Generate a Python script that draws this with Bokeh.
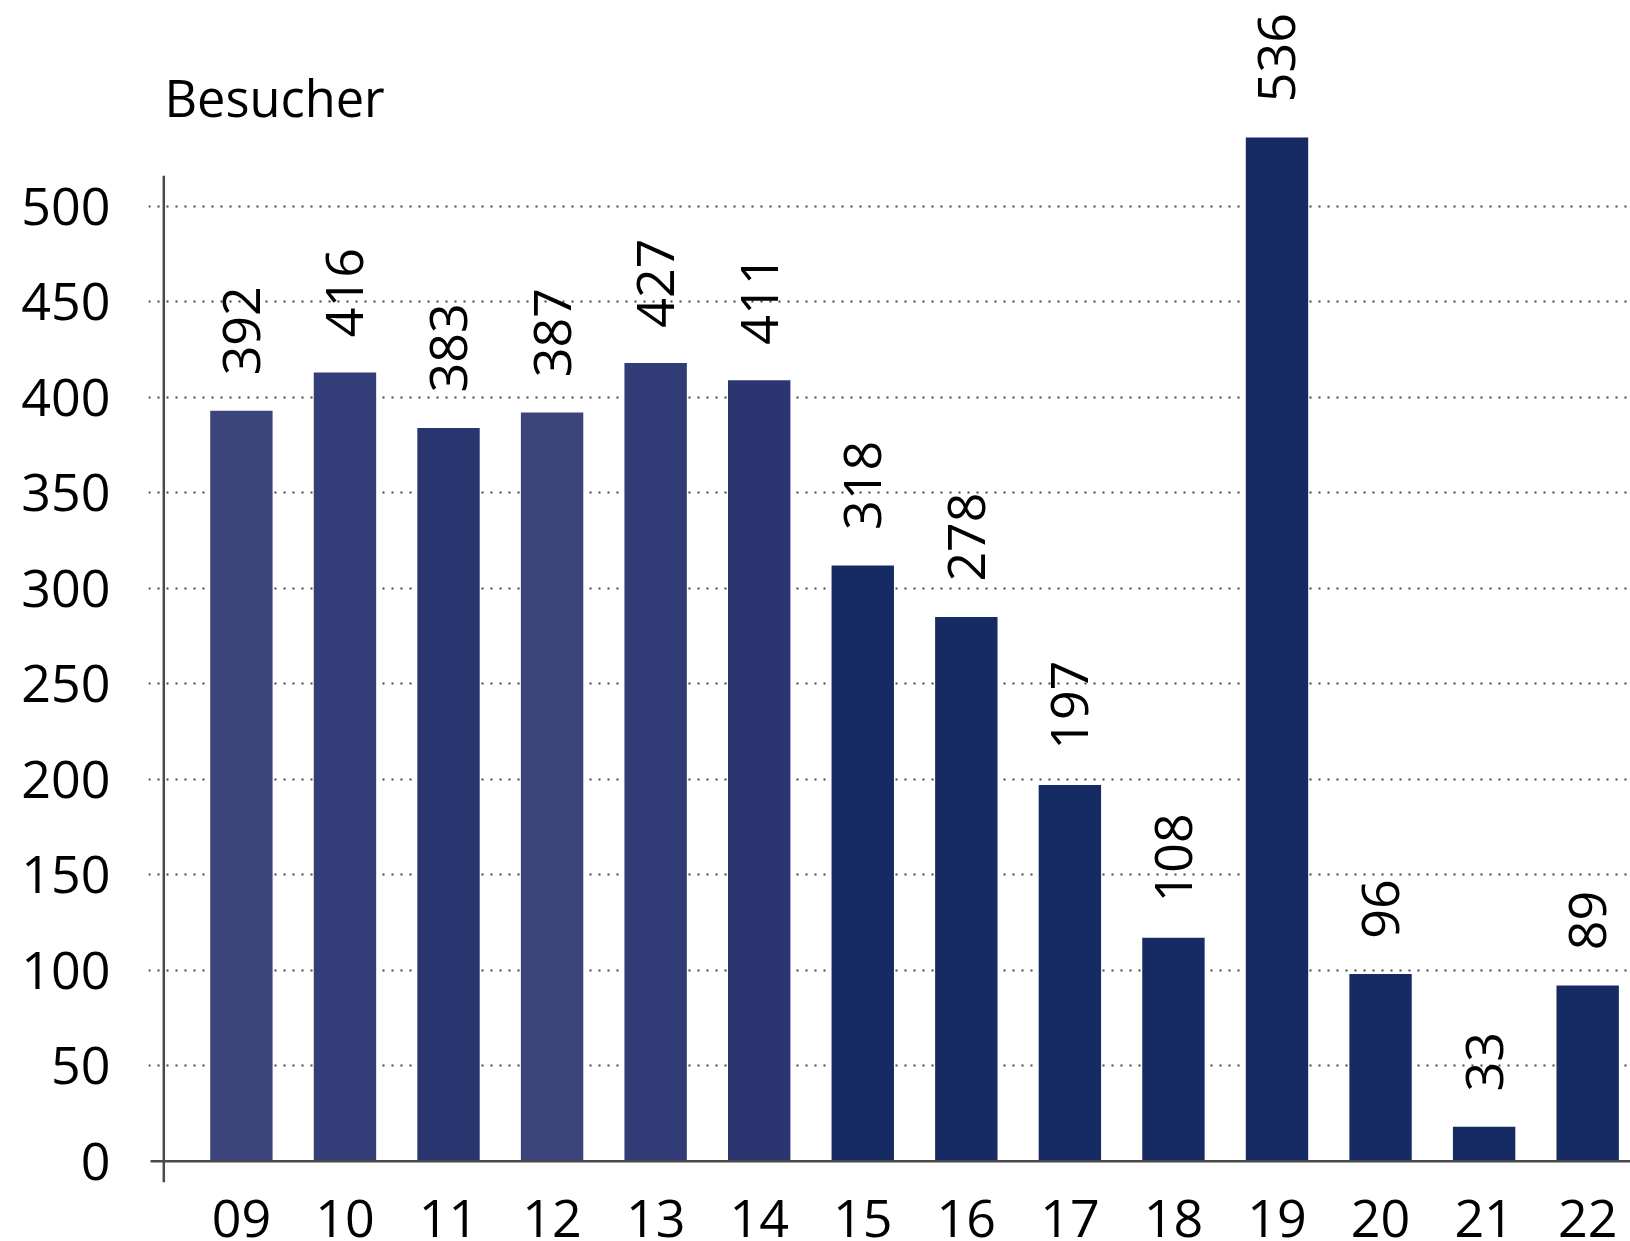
import math
from bokeh.plotting import figure
from bokeh.models import Range1d, FixedTicker
from bokeh.core.properties import value
from bokeh.embed import file_html
from bokeh.resources import INLINE

# ---- data ----
years = ["09", "10", "11", "12", "13", "14", "15", "16", "17", "18", "19", "20", "21", "22"]
bar_values = [393, 413, 384, 392, 418, 409, 312, 285, 197, 117, 536, 98, 18, 92]
label_values = [392, 416, 383, 387, 427, 411, 318, 278, 197, 108, 536, 96, 33, 89]
bar_colors = ["#3c457b", "#333d78", "#29356f", "#3c457b", "#323c77", "#2b3570",
              "#162a64", "#162a64", "#162a64", "#162a64", "#162a64", "#162a64",
              "#162a64", "#162a64"]
y_ticks = [0, 50, 100, 150, 200, 250, 300, 350, 400, 450, 500]
y_title = "Besucher"

FONT = "Open Sans"
FS = "52px"
idx = list(range(len(years)))

X_START, X_END = -0.8971, 13.4135
Y_START, Y_END = -42.05, 607.8
Y_AXIS_X = -0.7493
X_AXIS_START = -0.8777

p = figure(width=1630, height=1241,
           x_range=Range1d(X_START, X_END), y_range=Range1d(Y_START, Y_END),
           output_backend="svg", toolbar_location=None,
           x_axis_location=None,
           min_border_left=148, min_border_right=0,
           min_border_top=0, min_border_bottom=0)
p.outline_line_color = None
p.background_fill_color = "white"
p.border_fill_color = "white"

yax = p.yaxis[0]
yax.ticker = FixedTicker(ticks=y_ticks)
yax.axis_line_color = None
yax.major_tick_line_color = None
yax.minor_tick_line_color = None
yax.major_tick_in = 0
yax.major_tick_out = 0
yax.major_label_standoff = 38
yax.major_label_text_font = FONT
yax.major_label_text_font_size = FS
yax.major_label_text_color = "#000000"

p.xgrid.visible = False
p.ygrid.ticker = FixedTicker(ticks=y_ticks[1:])
p.ygrid.grid_line_color = "#444444"
p.ygrid.grid_line_dash = "2 7"
p.ygrid.grid_line_width = 2

# bars
p.vbar(x=idx, top=bar_values, bottom=0, width=0.6025, fill_color=bar_colors, line_color=None)

# axis lines
AXIS_COLOR = "#4a4a4a"
p.segment(x0=[X_AXIS_START], y0=[0], x1=[X_END], y1=[0], line_color=AXIS_COLOR, line_width=2.5)
p.segment(x0=[Y_AXIS_X], y0=[-11], x1=[Y_AXIS_X], y1=[516], line_color=AXIS_COLOR, line_width=2.5)

# value labels (rotated)
p.text(x=idx, y=[v + 18.5 for v in bar_values], text=[str(v) for v in label_values],
       angle=math.pi / 2, text_align="left", text_baseline="middle",
       text_font=value(FONT), text_font_size=value(FS), text_color="#000000")

# category labels
p.text(x=idx, y=[-30] * len(idx), text=years, text_align="center", text_baseline="middle",
       text_font=value(FONT), text_font_size=value(FS), text_color="#000000")

# y title
p.text(x=[-0.7426], y=[557], text=[y_title], text_align="left", text_baseline="middle",
       text_font=value(FONT), text_font_size=value("50.5px"), text_color="#000000")

open("out.html", "w").write(file_html(p, INLINE))
